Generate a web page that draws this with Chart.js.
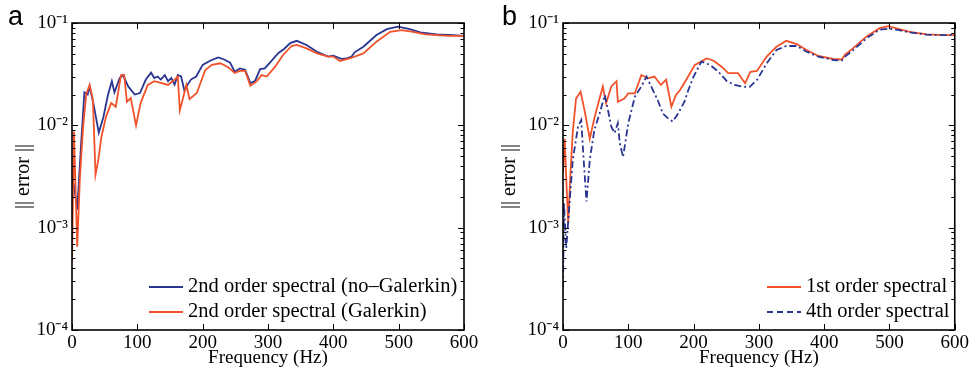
<!DOCTYPE html>
<html>
<head>
<meta charset="utf-8">
<title>Error vs frequency</title>
<script src="https://cdn.jsdelivr.net/npm/chart.js@4.4.1/dist/chart.umd.min.js"></script>
<style>
  html, body { margin: 0; padding: 0; background: #fff; }
  #wrap { position: relative; width: 971px; height: 376px; overflow: hidden; }
  .panel { position: absolute; top: 0; height: 376px; }
  #panelA { left: 0; width: 486px; }
  #panelB { left: 486px; width: 485px; }
  .tag { position: absolute; top: 0; font-family: "Liberation Sans", Arial, sans-serif; font-size: 27px; line-height: 32px; color: #000; }
</style>
</head>
<body>
<div id="wrap">
  <div class="panel" id="panelA"><canvas id="chartA" width="486" height="376"></canvas></div>
  <div class="panel" id="panelB"><canvas id="chartB" width="485" height="376"></canvas></div>
  <div class="tag" style="left:8px">a</div>
  <div class="tag" style="left:502px">b</div>
</div>
<script>
// axis ticks
const xTicks = [0, 100, 200, 300, 400, 500, 600];
const yTickValues = [1e-4, 1e-3, 1e-2, 1e-1];
const yTickLabels = ["10\u207B\u2074", "10\u207B\u00B3", "10\u207B\u00B2", "10\u207B\u00B9"];

// panel a - 2nd order spectral (no-Galerkin)
const freqA1 = [0, 3, 8, 14, 19, 24, 27, 33, 41, 48, 55, 61, 65, 73, 78, 86, 96, 104, 113, 121, 126, 131, 136, 142, 147, 152, 157, 162, 167, 172, 177, 182, 190, 200, 212, 224, 233, 242, 249, 257, 265, 273, 280, 288, 295, 303, 316, 325, 334, 344, 359, 375, 392, 400, 413, 420, 428, 433, 446, 466, 482, 499, 517, 533, 558, 584, 600];
const errA1 = [3.0e-3, 2.6e-3, 1.5e-3, 6.7e-3, 0.021, 0.020, 0.024, 0.016, 0.0085, 0.012, 0.0198, 0.027, 0.021, 0.029, 0.031, 0.024, 0.020, 0.0207, 0.028, 0.0327, 0.029, 0.030, 0.028, 0.031, 0.027, 0.029, 0.025, 0.031, 0.030, 0.022, 0.025, 0.028, 0.030, 0.039, 0.043, 0.046, 0.044, 0.041, 0.0334, 0.036, 0.035, 0.0259, 0.027, 0.0355, 0.036, 0.041, 0.051, 0.056, 0.0637, 0.067, 0.061, 0.0524, 0.047, 0.048, 0.0445, 0.045, 0.047, 0.052, 0.0587, 0.0763, 0.087, 0.092, 0.087, 0.081, 0.0775, 0.076, 0.075];

// panel a - 2nd order spectral (Galerkin)
const freqA2 = [0, 3, 5, 8, 12, 17, 22, 27, 32, 36, 40, 45, 52, 60, 67, 75, 80, 84, 90, 98, 105, 116, 126, 136, 147, 157, 162, 165, 170, 175, 180, 191, 204, 214, 227, 239, 249, 257, 265, 273, 283, 290, 298, 311, 323, 336, 344, 359, 375, 392, 400, 410, 425, 446, 466, 487, 504, 522, 541, 575, 600];
const errA2 = [4.7e-4, 8.7e-3, 3.0e-3, 6.5e-4, 3.0e-3, 0.0097, 0.0205, 0.0248, 0.0177, 0.0033, 0.0045, 0.0077, 0.0121, 0.0165, 0.0152, 0.031, 0.031, 0.017, 0.0185, 0.0100, 0.0165, 0.0248, 0.027, 0.026, 0.0248, 0.028, 0.030, 0.014, 0.0185, 0.0248, 0.018, 0.0207, 0.0347, 0.039, 0.0404, 0.037, 0.0325, 0.034, 0.034, 0.0243, 0.027, 0.031, 0.030, 0.0374, 0.0487, 0.0596, 0.061, 0.0565, 0.0505, 0.047, 0.047, 0.0426, 0.045, 0.0505, 0.0657, 0.082, 0.085, 0.082, 0.0775, 0.075, 0.075];

// panel b - 1st order spectral
const freqB1 = [0, 2.5, 5, 8, 11, 15, 20, 27, 33, 41, 48, 56, 61, 66, 74, 82, 84, 94, 100, 110, 120, 130, 140, 150, 158, 166, 173, 179, 189, 202, 220, 230, 243, 253, 268, 279, 287, 297, 312, 327, 342, 358, 373, 391, 414, 427, 432, 444, 465, 485, 498, 515, 531, 557, 583, 600];
const errB1 = [3.4e-3, 7.4e-3, 3.0e-3, 1.1e-3, 3.0e-3, 0.0087, 0.0183, 0.0213, 0.014, 0.0074, 0.0117, 0.0183, 0.024, 0.0164, 0.024, 0.027, 0.017, 0.0183, 0.0205, 0.0205, 0.031, 0.0288, 0.030, 0.0248, 0.028, 0.0152, 0.0198, 0.022, 0.028, 0.039, 0.045, 0.043, 0.0374, 0.0323, 0.0323, 0.0258, 0.0334, 0.034, 0.047, 0.0587, 0.067, 0.0623, 0.0545, 0.0476, 0.0445, 0.044, 0.049, 0.0565, 0.074, 0.089, 0.093, 0.087, 0.082, 0.0775, 0.076, 0.076];

// panel b - 4th order spectral
const freqB4 = [0, 1.5, 5, 10, 15, 23, 28, 31, 36, 41, 48, 56, 64, 69, 74, 79, 84, 87, 92, 100, 110, 120, 128, 135, 145, 153, 161, 168, 176, 186, 191, 200, 212, 225, 238, 251, 263, 276, 286, 297, 312, 327, 342, 358, 373, 391, 414, 427, 432, 444, 465, 485, 498, 515, 531, 557, 583, 600];
const errB4 = [2.6e-4, 1.74e-3, 6.3e-4, 1.74e-3, 4.6e-3, 0.0097, 0.0113, 0.0053, 0.0018, 0.0046, 0.009, 0.013, 0.0198, 0.014, 0.0097, 0.0084, 0.0105, 0.0067, 0.0049, 0.0105, 0.019, 0.024, 0.030, 0.024, 0.0177, 0.013, 0.0117, 0.0109, 0.013, 0.017, 0.0213, 0.030, 0.042, 0.039, 0.0334, 0.027, 0.0248, 0.0238, 0.0238, 0.0277, 0.0404, 0.0545, 0.0596, 0.0596, 0.0524, 0.047, 0.0435, 0.043, 0.047, 0.054, 0.071, 0.086, 0.088, 0.085, 0.081, 0.077, 0.076, 0.077];

const BLUE = "#2a3592";
const ORANGE = "#f2522a";
const SERIF = '"Liberation Serif", "Times New Roman", serif';

function toPoints(xs, ys) {
  return xs.map((x, i) => ({ x: x, y: ys[i] }));
}

// MATLAB style box, inward ticks and legend inside the axes
const matlabAxes = {
  id: "matlabAxes",
  afterDraw(chart, args, opts) {
    const { ctx, chartArea: a, scales: { x, y } } = chart;
    ctx.save();
    ctx.strokeStyle = "#000";
    ctx.lineWidth = 1;
    ctx.setLineDash([]);
    ctx.beginPath();
    xTicks.forEach(v => {
      const px = Math.round(x.getPixelForValue(v)) + 0.5;
      ctx.moveTo(px, a.bottom); ctx.lineTo(px, a.bottom - 6);
      ctx.moveTo(px, a.top); ctx.lineTo(px, a.top + 6);
    });
    for (let d = -4; d <= -1; d++) {
      for (let k = 1; k <= 9; k++) {
        const v = k * Math.pow(10, d);
        if (v > 0.1000001) break;
        const py = Math.round(y.getPixelForValue(v)) + 0.5;
        const len = k === 1 ? 6 : 3.5;
        ctx.moveTo(a.left, py); ctx.lineTo(a.left + len, py);
        ctx.moveTo(a.right, py); ctx.lineTo(a.right - len, py);
      }
    }
    ctx.stroke();
    ctx.lineWidth = 1.6;
    ctx.strokeRect(a.left, a.top, a.width, a.height);

    // legend
    ctx.font = "20.5px " + SERIF;
    ctx.textBaseline = "middle";
    ctx.fillStyle = "#000";
    opts.items.forEach((idx, row) => {
      const ds = chart.data.datasets[idx];
      const yy = opts.y + row * opts.dy;
      ctx.strokeStyle = ds.borderColor;
      ctx.lineWidth = 2;
      ctx.setLineDash(ds.legendDash || []);
      ctx.beginPath();
      ctx.moveTo(opts.x, yy);
      ctx.lineTo(opts.x + opts.len, yy);
      ctx.stroke();
      ctx.setLineDash([]);
      ctx.fillText(ds.label, opts.x + opts.len + 5, yy);
    });
    ctx.restore();
  }
};

function makePanel(canvasId, datasets, yWidth, rightPad, legend) {
  return new Chart(document.getElementById(canvasId), {
    type: "line",
    data: { datasets: datasets },
    options: {
      responsive: false,
      animation: false,
      devicePixelRatio: 1,
      layout: { padding: { top: 23, right: rightPad, left: 0, bottom: 0 } },
      elements: { point: { radius: 0 }, line: { tension: 0 } },
      plugins: {
        legend: { display: false },
        tooltip: { enabled: false },
        matlabAxes: legend
      },
      scales: {
        x: {
          type: "linear",
          min: 0,
          max: 600,
          afterBuildTicks: s => { s.ticks = xTicks.map(v => ({ value: v })); },
          afterFit: s => { s.height = 46; },
          grid: { display: false, drawTicks: false },
          border: { display: false },
          ticks: { color: "#000", font: { family: SERIF, size: 19 }, padding: 2, maxRotation: 0 },
          title: { display: true, text: "Frequency (Hz)", color: "#000", font: { family: SERIF, size: 19 }, padding: { top: 0, bottom: 7 } }
        },
        y: {
          type: "logarithmic",
          min: 1e-4,
          max: 1e-1,
          afterBuildTicks: s => { s.ticks = yTickValues.map(v => ({ value: v })); },
          afterFit: s => { s.width = yWidth; },
          grid: { display: false, drawTicks: false },
          border: { display: false },
          ticks: {
            color: "#000",
            font: { family: SERIF, size: 19 },
            padding: 4,
            callback: v => yTickLabels[yTickValues.findIndex(t => Math.abs(t - v) / t < 1e-6)]
          },
          title: { display: true, text: "|| error ||", color: "#000", font: { family: SERIF, size: 20 }, padding: { top: 12, bottom: 0 } }
        }
      }
    },
    plugins: [matlabAxes]
  });
}

makePanel("chartA", [
  { label: "2nd order spectral (no\u2013Galerkin)", data: toPoints(freqA1, errA1), borderColor: BLUE, borderWidth: 1.8, order: 1 },
  { label: "2nd order spectral (Galerkin)", data: toPoints(freqA2, errA2), borderColor: ORANGE, borderWidth: 1.8, order: 0 }
], 72, 22, { items: [0, 1], x: 149, y: 287, dy: 25, len: 34 });

makePanel("chartB", [
  { label: "1st order spectral", data: toPoints(freqB1, errB1), borderColor: ORANGE, borderWidth: 1.8, order: 1 },
  { label: "4th order spectral", data: toPoints(freqB4, errB4), borderColor: BLUE, borderWidth: 1.8, borderDash: [7, 3, 2, 3], legendDash: [6, 4], order: 0 }
], 77, 16, { items: [0, 1], x: 281, y: 287, dy: 25, len: 34 });
</script>
</body>
</html>
